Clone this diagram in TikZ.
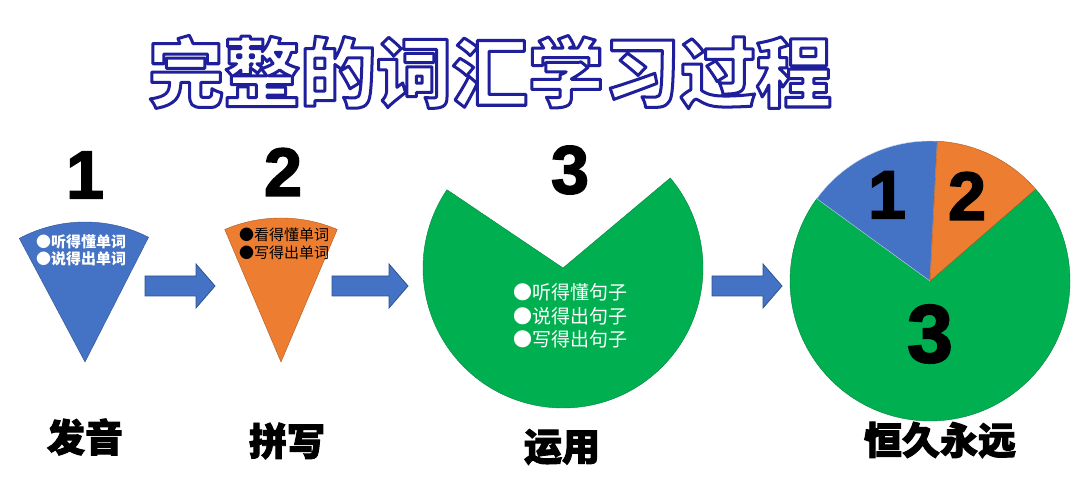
\documentclass[tikz,border=0pt]{standalone}
\usepackage{fontspec}
\newfontfamily\cjk{Noto Sans CJK SC}
\newfontfamily\cjkheavy{Noto Sans CJK SC}[RawFeature={embolden=2.5}]
\newfontfamily\numfont{Liberation Sans}[RawFeature={embolden=2.5}]
\definecolor{wordblue}{HTML}{4472C4}
\definecolor{blueline}{HTML}{2F528F}
\definecolor{wordorange}{HTML}{ED7D31}
\definecolor{orangeline}{HTML}{AE5A21}
\definecolor{usegreen}{HTML}{00B050}
\definecolor{greenline}{HTML}{00843C}
% outlined text: fill white, stroke dark blue
\newcommand{\outlined}[1]{{\color{white}%
  \special{pdf:literal direct 2 Tr 3 w 1 j 0.12 0.12 0.61 RG}#1%
  \special{pdf:literal direct 0 Tr}}}

\begin{document}
\begin{tikzpicture}[x=1pt, y=1pt,
  every node/.style={inner sep=0pt, align=center},
  bignum/.style={font=\numfont\bfseries\fontsize{68}{68}\selectfont},
  stage/.style={font=\cjkheavy\bfseries\fontsize{38}{38}\selectfont},
  bullets/.style 2 args={align=left, font=\cjk\fontsize{#1}{#2}\selectfont},
  blockarrow/.style={fill=wordblue, draw=blueline, line width=0.8pt}
]
\useasboundingbox (0,0) rectangle (1080,489);

% title
\node (title) at (490,417) {\cjk\bfseries\fontsize{76}{76}\selectfont
  \outlined{完整的词汇学习过程}};

% stage 1: pronunciation
\filldraw[fill=wordblue, draw=blueline] (85,127) -- ++(63:140)
  arc[start angle=63, end angle=118, radius=140] -- cycle;
\node[bignum] (one) at (85,314) {1};
\node[bullets={15}{17}, text=white] (hear) at (81,239) {\bfseries●听得懂单词\\\bfseries●说得出单词};
\node[stage] (pron) at (85,52) {发音};

% stage 2: spelling
\filldraw[fill=wordorange, draw=orangeline] (281,127) -- ++(67:144)
  arc[start angle=67, end angle=113, radius=144] -- cycle;
\node[bignum] (two) at (283,317) {2};
\node[bullets={15}{17.5}, text=black] (read) at (284,245) {●看得懂单词\\●写得出单词};
\node[stage] (spell) at (287,48) {拼写};

% stage 3: usage
\filldraw[fill=usegreen, draw=greenline] (563,221) -- ++(40:140)
  arc[start angle=40, end angle=-214, radius=140] -- cycle;
\node[bignum] (three) at (570,319) {3};
\node[bullets={19}{23.5}, text=white] (sent) at (570,173) {●听得懂句子\\●说得出句子\\●写得出句子};
\node[stage] (use) at (562,42) {运用};

% whole pie
\filldraw[fill=usegreen, draw=greenline] (930,208) -- ++(41:140)
  arc[start angle=41, end angle=-216, radius=140] -- cycle;
\filldraw[fill=wordblue, draw=white!70!wordblue] (930,208) -- ++(87:140)
  arc[start angle=87, end angle=144, radius=140] -- cycle;
\filldraw[fill=wordorange, draw=orangeline] (930,208) -- ++(41:140)
  arc[start angle=41, end angle=87, radius=140] -- cycle;
\node[bignum] (pie1) at (887,294) {1};
\node[bignum] (pie2) at (967,293) {2};
\node[bignum, font=\numfont\bfseries\fontsize{82}{82}\selectfont] (pie3) at (930,155) {3};
\node[stage] (forever) at (940,49) {恒久永远};

% arrows between stages
\foreach \xa/\xb in {145/215, 332/408, 712/782}
  \filldraw[blockarrow] (\xa,193) -- (\xb-19,193) -- (\xb-19,181) -- (\xb,203)
    -- (\xb-19,225) -- (\xb-19,213) -- (\xa,213) -- cycle;

\end{tikzpicture}
\end{document}
